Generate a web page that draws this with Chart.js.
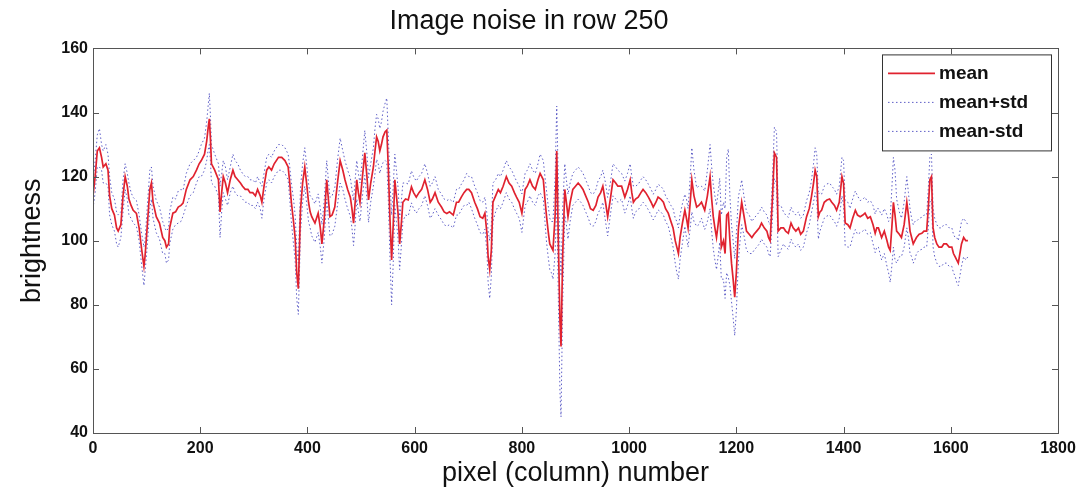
<!DOCTYPE html>
<html>
<head>
<meta charset="utf-8">
<script src="https://cdn.jsdelivr.net/npm/chart.js@4.4.0/dist/chart.umd.min.js"></script>
<style>
  html, body { margin: 0; padding: 0; background: #fff; }
  #wrap { width: 1091px; height: 493px; }
</style>
</head>
<body>
<div id="wrap"><canvas id="c" width="1091" height="493"></canvas></div>
<script>
// ---- data ----
const columns = [0,4,8,12,16,19,24,28,31,35,40,44,47,52,56,60,64,67,71,75,81,86,91,95,97,101,106,109,112,118,124,130,134,137,141,143,149,154,159,164,168,174,181,187,193,198,202,208,212,215,217,219,221,227,234,237,240,243,247,251,256,261,265,270,275,279,284,289,293,298,303,307,312,315,319,324,328,333,338,346,352,358,364,367,370,374,377,380,383,387,391,395,399,402,405,408,414,420,424,427,431,436,439,442,446,451,456,461,466,470,475,480,483,486,489,492,495,498,502,507,511,514,518,523,526,529,532,535,538,541,545,548,551,554,557,560,563,566,569,572,575,578,583,588,594,598,603,608,613,619,624,629,633,638,644,650,655,660,665,672,678,682,687,692,697,701,706,712,717,722,727,731,735,737,740,743,746,751,756,760,765,771,776,781,786,790,795,800,806,810,815,820,825,830,834,840,843,846,849,852,855,858,862,865,868,871,873,876,880,883,886,890,895,900,905,910,914,919,924,928,933,938,942,947,951,956,960,965,970,975,979,986,992,997,1002,1005,1008,1012,1017,1022,1026,1031,1036,1041,1045,1050,1054,1059,1064,1068,1073,1078,1082,1086,1089,1092,1095,1100,1104,1107,1110,1114,1117,1121,1126,1130,1135,1141,1146,1151,1154,1157,1160,1163,1166,1169,1172,1176,1179,1182,1185,1188,1191,1194,1197,1200,1204,1207,1210,1215,1219,1224,1229,1233,1238,1243,1247,1252,1257,1260,1263,1267,1271,1275,1278,1283,1288,1292,1297,1302,1306,1311,1316,1320,1325,1331,1336,1340,1344,1347,1350,1353,1356,1359,1364,1369,1374,1378,1383,1387,1392,1397,1400,1403,1408,1412,1417,1422,1426,1431,1436,1440,1445,1450,1455,1459,1462,1465,1471,1476,1481,1484,1487,1490,1493,1496,1499,1504,1508,1513,1518,1521,1524,1527,1530,1533,1536,1541,1546,1550,1555,1558,1561,1564,1567,1570,1574,1578,1583,1587,1592,1597,1602,1605,1608,1611,1614,1617,1620,1624,1628,1632];

const meanValues = [114,120,128,129,126,123,124,122,114,110,108,104,103,105,114,120,117,113,111,109.5,108.5,104,97,92,95,104,116,118,112,107.5,105.5,101,100,98,99,104,108.6,109,110.5,111,111.7,116,119,120,122,124,125,127,131,135.5,138,132,124,122,119,109,115,120,118,115,119,122,120,119,118,117,116,116,115,115,114,116,114,112,117,122,123,122,124,126,126,125,123,118,112,106,101,90,85,109.5,118,123,117,112,109,107.5,105.5,108.6,104,99,106,119,113,107.5,108,110.5,118,125,122,119,116,113.6,110,105.5,112,119,115,112,119,127.4,120,112.7,118,123,128,132.4,131,128,130,132.4,134,134.5,122,106.4,94,105,119,114,108.6,99,105,112,113,112.7,116.8,115,113.6,115,116,119,116,112,113,115,112,110.5,109,108.5,109,108,112,112,113.6,115,116,116,115,112,110,107.5,107,108.6,102,95,91,97,112,114,116,115,117,120,118,117,115,113.6,112,108.6,116,117,119,117,116,119,121,119,113,107.5,103,99,98,97,108,128,100,75,67,95,116,112,107.5,112,116,117,118,117,116,114,112,110,109.5,111,113.6,115,117,112,107.5,113,119,118,117,117,113.6,116,119,115,112,113,113.6,115,116,115,113.6,112,110.5,112,113.6,113,112,110,108.6,106,104,100,98,96,101,106,109.5,107,104,112,119,114,110.5,111,112,109.5,114,120,113,107.5,104,101,105,109.5,98,100,96,108,108.6,100,93,88,82.4,90,104,108,112,107,103,102,101,102,103,104,105.5,104,103,101,100,112,127.4,126,103,104,104,103,102.3,105.5,104,103,104,102,103,107.5,110,113.6,118,122,120,107.5,109,109.5,112,112.7,113,112,111,109.5,112,120,118,105.5,105,104,107,109.5,108,107.5,108,108.6,107,107.5,105,102.3,104,104,101,103,100,98,97,104,112,108,103,102,101,105,112,108,103,101,99,100,101,102,102.3,103,103,110,119,120,104,101,99,98,98,99,99,98,98,96,95,94,93,96,99,101,100,100];

const stdValues = [4,5,5,6,4,5,6,5,6,5,5,5,5,4,5,4,4,5,4,4,4,4,5,6,5,6,6,5,5,5,5,5,4,5,5,5,5,4,5,5,4,5,5,5,4,4,5,5,6,7,8,7,6,5,5,8,6,5,5,4,4,5,5,5,4,4,4,4,4,4,4,4,4,5,4,4,4,4,4,4,4,4,4,5,6,7,7,8,8,7,6,6,6,6,5,6,6,6,6,6,6,6,6,6,6,6,7,7,6,6,6,6,6,7,7,6,6,6,6,7,7,7,6,6,7,7,7,7,7,8,9,10,10,12,14,12,8,8,8,8,7,6,5,5,5,5,5,5,5,5,5,5,5,5,4,4,4,4,4,4,4,4,4,4,5,4,5,5,5,5,5,5,6,8,9,8,6,5,5,5,5,5,5,5,5,5,5,6,5,5,5,5,5,5,6,6,7,8,8,8,8,9,12,14,18,22,22,15,8,7,7,6,5,5,5,5,5,5,5,5,5,5,5,5,5,6,6,5,5,5,5,4,5,5,5,5,5,4,4,4,4,4,4,4,4,4,4,4,4,4,4,5,6,7,8,8,7,6,5,6,6,8,10,8,6,6,5,6,8,10,10,10,10,10,10,10,10,12,14,18,20,14,12,12,12,12,10,8,7,6,6,6,5,5,5,5,5,5,5,5,5,6,8,8,8,7,5,5,5,5,5,5,5,5,5,5,5,5,6,7,7,7,6,5,5,5,5,5,5,5,5,6,7,7,7,6,6,6,6,5,5,5,5,5,6,6,6,6,7,7,8,8,10,12,14,14,10,7,6,7,8,7,7,6,6,6,5,5,5,5,5,6,7,7,6,6,6,6,6,6,6,6,6,6,6,7,7,7,7,6,6,5,5];

const xTickValues = [0,200,400,600,800,1000,1200,1400,1600,1800];
const yTickValues = [40,60,80,100,120,140,160];
const seriesLabels = ['mean', 'mean+std', 'mean-std'];

// ---- build datasets ----
const meanPts  = columns.map((c, i) => ({x: c, y: meanValues[i]}));
const upperPts = columns.map((c, i) => ({x: c, y: meanValues[i] + stdValues[i]}));
const lowerPts = columns.map((c, i) => ({x: c, y: meanValues[i] - stdValues[i]}));

const RED = '#e0222f';
const BLUE = 'rgba(55,55,185,0.8)';
const FONT = '"Liberation Sans", Arial, Helvetica, sans-serif';

const boxAndTicks = {
  id: 'boxAndTicks',
  afterDatasetsDraw(chart) {
    const {ctx, chartArea: a, scales} = chart;
    ctx.save();
    ctx.strokeStyle = '#555';
    ctx.lineWidth = 1;
    ctx.setLineDash([]);
    ctx.strokeRect(Math.round(a.left) + 0.5, Math.round(a.top) + 0.5,
                   Math.round(a.right - a.left), Math.round(a.bottom - a.top));
    const L = 6;
    ctx.beginPath();
    scales.x.ticks.forEach(t => {
      const px = Math.round(scales.x.getPixelForValue(t.value)) + 0.5;
      ctx.moveTo(px, a.bottom); ctx.lineTo(px, a.bottom - L);
      ctx.moveTo(px, a.top); ctx.lineTo(px, a.top + L);
    });
    scales.y.ticks.forEach(t => {
      const py = Math.round(scales.y.getPixelForValue(t.value)) + 0.5;
      ctx.moveTo(a.left, py); ctx.lineTo(a.left + L, py);
      ctx.moveTo(a.right, py); ctx.lineTo(a.right - L, py);
    });
    ctx.stroke();
    ctx.restore();
  },
  afterDraw(chart) {
    const {ctx, chartArea: a} = chart;
    const ds = chart.data.datasets;
    const order = [2, 0, 1]; // mean, mean+std, mean-std
    const bx = a.right - 176, by = a.top + 6, bw = 169, bh = 96;
    ctx.save();
    ctx.fillStyle = '#fff';
    ctx.fillRect(bx, by, bw, bh);
    ctx.strokeStyle = '#333';
    ctx.lineWidth = 1;
    ctx.strokeRect(bx + 0.5, by + 0.5, bw, bh);
    ctx.font = 'bold 19px ' + FONT;
    ctx.textBaseline = 'middle';
    ctx.fillStyle = '#111';
    order.forEach((di, k) => {
      const d = ds[di];
      const y = by + 19 + k * 29;
      ctx.beginPath();
      ctx.strokeStyle = d.borderColor;
      ctx.lineWidth = d.borderWidth;
      ctx.setLineDash(d.borderDash || []);
      ctx.moveTo(bx + 6, y); ctx.lineTo(bx + 53, y);
      ctx.stroke();
      ctx.setLineDash([]);
      ctx.fillText(d.label, bx + 57, y);
    });
    ctx.restore();
  }
};

new Chart(document.getElementById('c'), {
  type: 'line',
  data: {
    datasets: [
      { label: seriesLabels[1], data: upperPts, borderColor: BLUE, borderWidth: 1, borderDash: [1.5, 2.5], pointRadius: 0, fill: false, tension: 0, order: 1 },
      { label: seriesLabels[2], data: lowerPts, borderColor: BLUE, borderWidth: 1, borderDash: [1.5, 2.5], pointRadius: 0, fill: false, tension: 0, order: 1 },
      { label: seriesLabels[0], data: meanPts, borderColor: RED, borderWidth: 1.7, pointRadius: 0, fill: false, tension: 0, order: 0 }
    ]
  },
  options: {
    responsive: false,
    animation: false,
    events: [],
    layout: { padding: { left: 0, right: 33, top: 0, bottom: 0 } },
    plugins: {
      legend: { display: false },
      tooltip: { enabled: false },
      title: {
        display: true,
        text: 'Image noise in row 250',
        color: '#111',
        font: { family: FONT, size: 27, weight: 'normal', lineHeight: 1.2 },
        padding: { top: 5, bottom: 11 }
      }
    },
    scales: {
      x: {
        type: 'linear',
        min: 0, max: 1800,
        afterBuildTicks(scale) { scale.ticks = xTickValues.map(v => ({value: v})); },
        afterFit(scale) { scale.height = 60; },
        grid: { display: false, drawTicks: false },
        border: { display: false },
        ticks: { color: '#111', font: { family: FONT, size: 16, weight: 'bold' }, padding: 6, maxRotation: 0,
                 callback: v => String(v) },
        title: { display: true, text: 'pixel (column) number', color: '#111',
                 font: { family: FONT, size: 27, weight: 'normal', lineHeight: 1.2 }, padding: { top: 0, bottom: 3 } }
      },
      y: {
        type: 'linear',
        min: 40, max: 160,
        afterBuildTicks(scale) { scale.ticks = yTickValues.map(v => ({value: v})); },
        afterFit(scale) { scale.width = 93; },
        grid: { display: false, drawTicks: false },
        border: { display: false },
        ticks: { color: '#111', font: { family: FONT, size: 16, weight: 'bold' }, padding: 5,
                 callback: v => String(v) },
        title: { display: true, text: 'brightness', color: '#111',
                 font: { family: FONT, size: 27, weight: 'normal', lineHeight: 1.2 }, padding: { top: 16, bottom: 0 } }
      }
    }
  },
  plugins: [boxAndTicks]
});
</script>
</body>
</html>
